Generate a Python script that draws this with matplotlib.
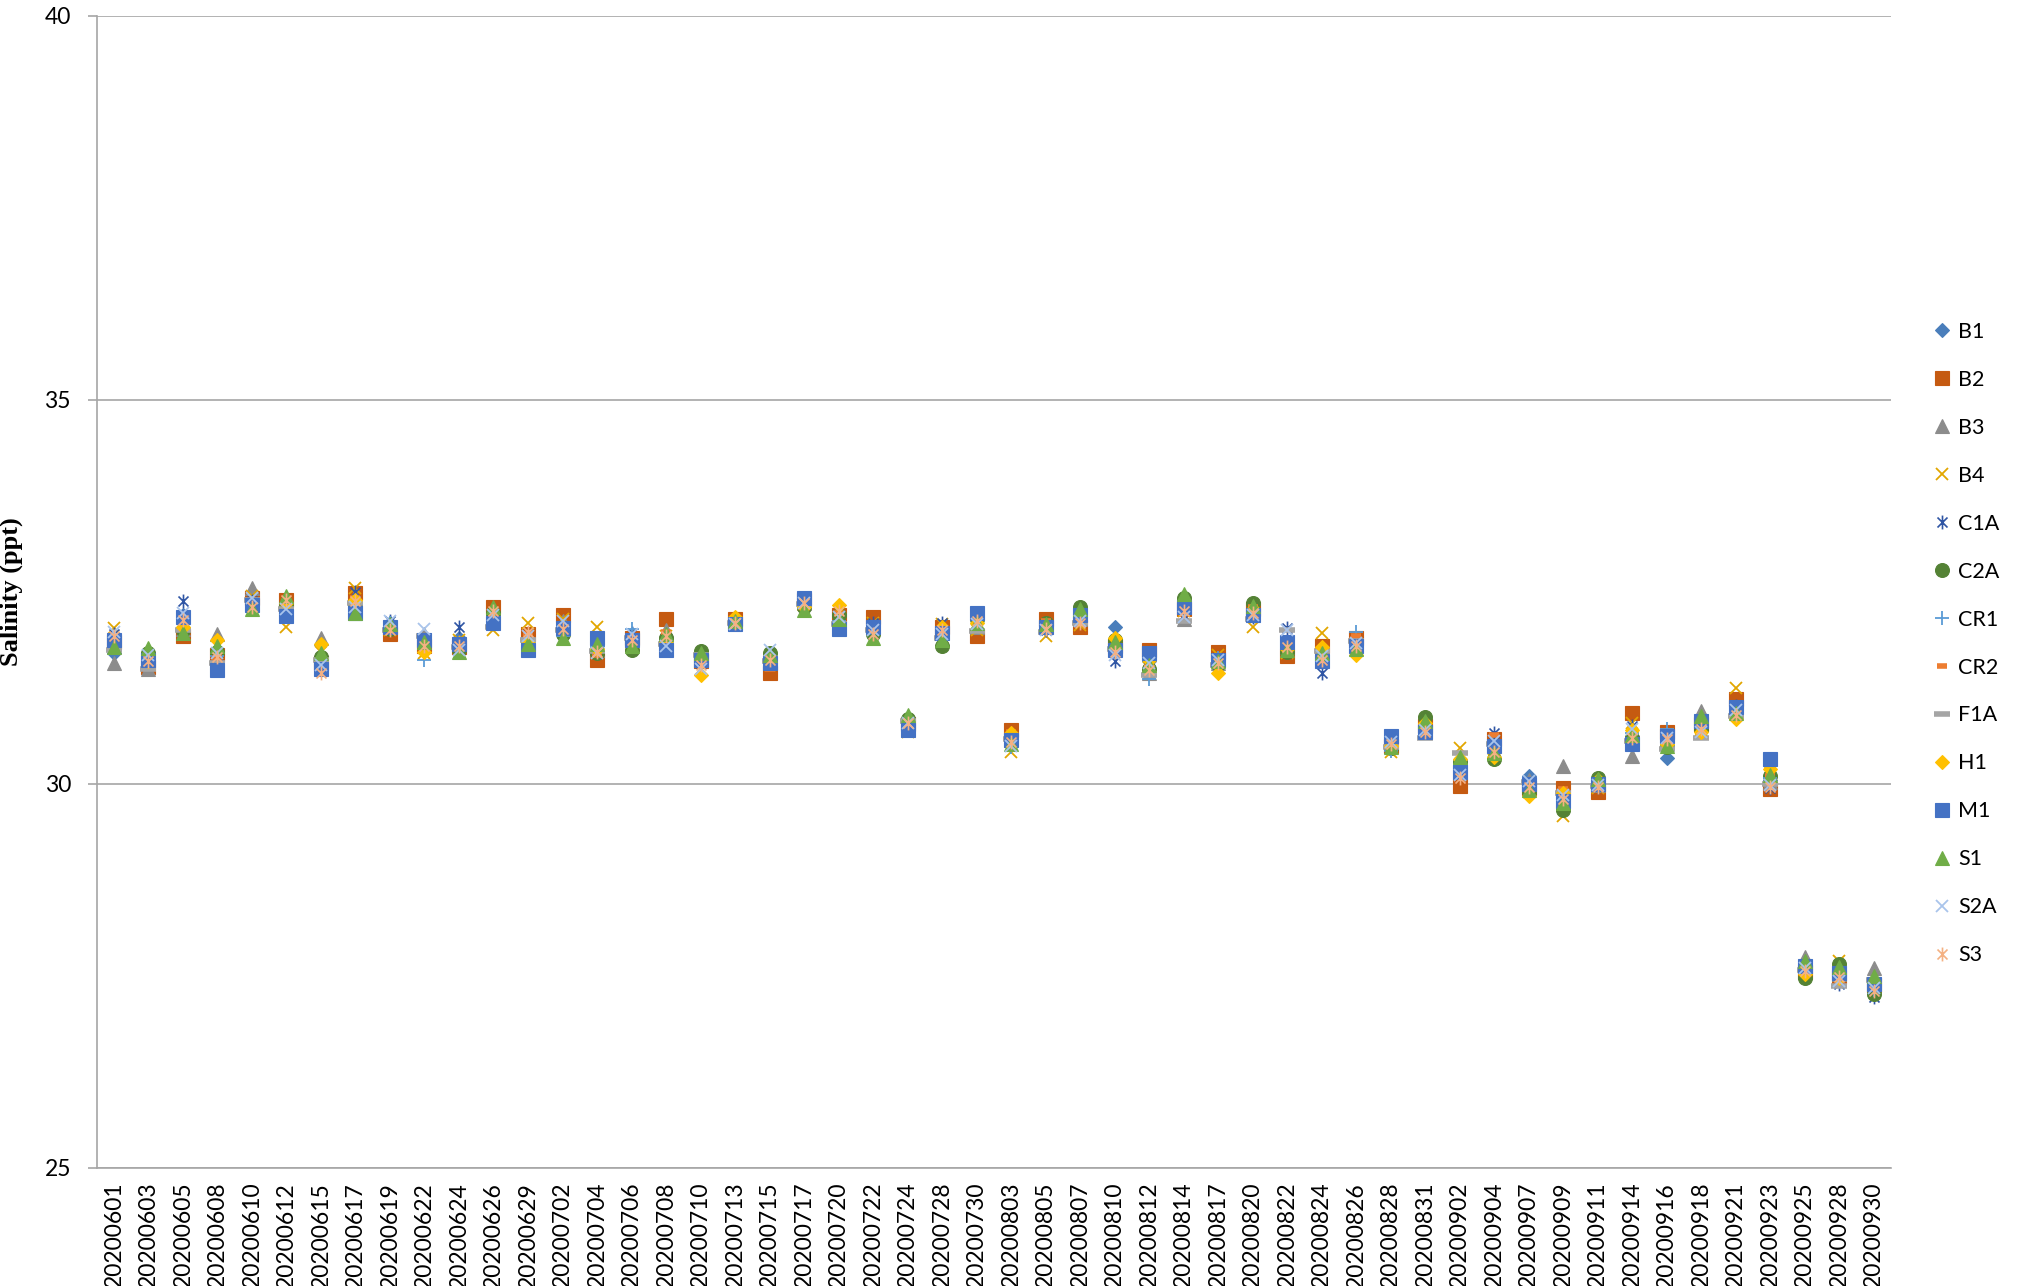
import matplotlib
matplotlib.use("Agg")
import matplotlib.pyplot as plt
from matplotlib.path import Path

dates = ["20200601", "20200603", "20200605", "20200608", "20200610", "20200612", "20200615",
         "20200617", "20200619", "20200622", "20200624", "20200626", "20200629", "20200702",
         "20200704", "20200706", "20200708", "20200710", "20200713", "20200715", "20200717",
         "20200720", "20200722", "20200724", "20200728", "20200730", "20200803", "20200805",
         "20200807", "20200810", "20200812", "20200814", "20200817", "20200820", "20200822",
         "20200824", "20200826", "20200828", "20200831", "20200902", "20200904", "20200907",
         "20200909", "20200911", "20200914", "20200916", "20200918", "20200921", "20200923",
         "20200925", "20200928", "20200930"]

B1 = [31.70, 31.60, 32.20, 31.75, 32.40, 32.30, 31.62, 32.38, 32.10, 31.90, 31.90, 32.20, 31.88,
      32.10, 31.80, 31.95, 31.88, 31.68, 32.12, 31.62, 32.38, 32.15, 32.08, 30.75, 32.00, 32.15,
      30.60, 32.05, 32.25, 32.04, 31.60, 32.35, 31.65, 32.25, 31.80, 31.72, 31.85, 30.52, 30.72,
      30.25, 30.55, 30.10, 29.85, 30.02, 30.62, 30.34, 30.85, 31.05, 30.05, 27.58, 27.50, 27.35]
B2 = [31.85, 31.52, 31.93, 31.68, 32.42, 32.40, 31.58, 32.48, 31.95, 31.80, 31.78, 32.30, 31.95,
      32.20, 31.62, 31.90, 32.15, 31.60, 32.15, 31.45, 32.40, 32.20, 32.17, 30.78, 32.05, 31.92,
      30.70, 32.15, 32.05, 31.80, 31.75, 32.28, 31.72, 32.28, 31.66, 31.80, 31.90, 30.50, 30.75,
      29.97, 30.58, 29.95, 29.95, 29.90, 30.92, 30.68, 30.78, 31.10, 29.93, 27.55, 27.48, 27.38]
B3 = [31.58, 31.50, 32.02, 31.95, 32.55, 32.38, 31.90, 32.45, 32.08, 31.95, 31.85, 32.25, 31.92,
      32.12, 31.75, 31.92, 32.00, 31.65, 32.10, 31.65, 32.35, 32.18, 32.05, 30.85, 31.98, 32.05,
      30.62, 32.08, 32.15, 31.85, 31.45, 32.15, 31.58, 32.22, 31.78, 31.70, 31.88, 30.55, 30.78,
      30.30, 30.60, 30.05, 30.23, 29.98, 30.37, 30.55, 30.95, 30.95, 30.02, 27.75, 27.52, 27.60]
B4 = [32.03, 31.60, 32.08, 31.62, 32.45, 32.05, 31.72, 32.55, 32.00, 31.70, 31.88, 32.00, 32.10,
      32.15, 32.05, 31.85, 31.92, 31.50, 32.08, 31.55, 32.33, 32.25, 32.10, 30.68, 32.08, 32.00,
      30.42, 31.92, 32.07, 31.82, 31.65, 32.25, 31.68, 32.05, 31.70, 31.97, 31.82, 30.42, 30.70,
      30.47, 30.45, 29.90, 29.58, 29.95, 30.80, 30.58, 30.70, 31.25, 30.15, 27.60, 27.70, 27.30]
C1A = [31.95, 31.65, 32.38, 31.68, 32.38, 32.25, 31.60, 32.50, 32.12, 31.85, 32.05, 32.15, 31.85,
       32.05, 31.85, 31.96, 31.80, 31.58, 32.14, 31.60, 32.36, 32.10, 32.10, 30.75, 32.10, 32.20,
       30.55, 32.00, 32.22, 31.60, 31.55, 32.20, 31.60, 32.18, 32.03, 31.45, 31.84, 30.58, 30.74,
       30.20, 30.66, 29.98, 29.80, 29.96, 30.75, 30.56, 30.80, 31.02, 29.95, 27.56, 27.40, 27.22]
C2A = [31.80, 31.70, 32.00, 31.72, 32.30, 32.32, 31.65, 32.33, 32.02, 31.82, 31.75, 32.22, 31.80,
       31.95, 31.70, 31.75, 31.90, 31.73, 32.10, 31.70, 32.30, 32.20, 31.95, 30.85, 31.80, 32.15,
       30.60, 32.10, 32.30, 31.88, 31.50, 32.42, 31.56, 32.35, 31.72, 31.65, 31.78, 30.47, 30.87,
       30.28, 30.32, 29.90, 29.66, 30.08, 30.60, 30.48, 30.72, 30.98, 30.10, 27.47, 27.66, 27.27]
CR1 = [31.90, 31.62, 32.10, 31.66, 32.35, 32.22, 31.55, 32.28, 32.10, 31.62, 31.82, 32.12, 31.90,
       31.92, 31.78, 32.02, 31.85, 31.63, 32.12, 31.62, 32.32, 32.12, 32.02, 30.72, 31.95, 32.18,
       30.48, 32.02, 32.18, 31.70, 31.36, 32.32, 31.64, 32.24, 31.82, 31.68, 31.98, 30.43, 30.66,
       30.18, 30.48, 29.96, 29.82, 30.02, 30.66, 30.72, 30.76, 31.00, 30.08, 27.62, 27.45, 27.32]
CR2 = [31.85, 31.58, 32.05, 31.64, 32.36, 32.20, 31.57, 32.42, 32.05, 31.78, 31.80, 32.18, 31.95,
       32.08, 31.68, 31.88, 31.98, 31.66, 32.06, 31.50, 32.38, 32.22, 32.00, 30.80, 31.92, 32.02,
       30.68, 32.12, 32.20, 31.78, 31.52, 32.22, 31.66, 32.30, 31.75, 31.75, 31.92, 30.45, 30.72,
       30.22, 30.64, 29.94, 29.93, 29.94, 30.68, 30.66, 30.74, 30.86, 30.10, 27.54, 27.46, 27.36]
F1A = [31.75, 31.50, 32.00, 31.58, 32.40, 32.28, 31.62, 32.35, 32.00, 31.92, 31.78, 32.05, 31.88,
       32.00, 31.73, 31.90, 31.82, 31.68, 32.10, 31.60, 32.34, 32.08, 32.00, 30.82, 31.90, 31.99,
       30.58, 31.98, 32.10, 31.76, 31.42, 32.12, 31.55, 32.15, 32.00, 31.73, 31.86, 30.48, 30.60,
       30.40, 30.52, 30.02, 29.88, 29.97, 30.56, 30.45, 30.60, 30.88, 30.00, 27.58, 27.37, 27.45]
H1 = [31.82, 31.60, 32.05, 31.88, 32.32, 32.35, 31.82, 32.40, 32.03, 31.72, 31.84, 32.12, 31.83,
      32.05, 31.76, 31.82, 31.86, 31.42, 32.18, 31.58, 32.30, 32.33, 32.02, 30.76, 32.05, 32.10,
      30.66, 32.06, 32.15, 31.90, 31.62, 32.38, 31.45, 32.28, 31.76, 31.78, 31.68, 30.50, 30.80,
      30.33, 30.35, 29.84, 29.88, 30.05, 30.70, 30.52, 30.67, 30.85, 30.19, 27.52, 27.47, 27.42]
M1 = [31.88, 31.62, 32.17, 31.49, 32.33, 32.19, 31.50, 32.22, 32.05, 31.88, 31.82, 32.10, 31.75,
      32.03, 31.90, 31.88, 31.75, 31.62, 32.08, 31.58, 32.42, 32.02, 32.05, 30.70, 31.97, 32.22,
      30.57, 32.04, 32.20, 31.74, 31.70, 32.30, 31.62, 32.20, 31.85, 31.60, 31.80, 30.62, 30.68,
      30.15, 30.50, 30.00, 29.78, 30.00, 30.52, 30.63, 30.82, 31.00, 30.33, 27.63, 27.54, 27.40]
S1 = [31.78, 31.77, 31.97, 31.80, 32.28, 32.45, 31.70, 32.22, 32.08, 31.85, 31.72, 32.30, 31.82,
      31.90, 31.82, 31.80, 31.95, 31.70, 32.12, 31.68, 32.26, 32.15, 31.90, 30.90, 31.88, 32.10,
      30.52, 32.08, 32.28, 31.85, 31.55, 32.47, 31.60, 32.32, 31.74, 31.70, 31.76, 30.48, 30.82,
      30.35, 30.40, 29.92, 29.75, 30.06, 30.64, 30.50, 30.88, 30.92, 30.12, 27.70, 27.62, 27.50]
S2A = [31.98, 31.68, 32.22, 31.70, 32.42, 32.28, 31.55, 32.30, 32.12, 32.02, 31.74, 32.20, 31.92,
       32.12, 31.70, 31.95, 31.80, 31.50, 32.08, 31.75, 32.36, 32.18, 32.00, 30.80, 31.95, 32.08,
       30.50, 32.00, 32.12, 31.68, 31.58, 32.18, 31.62, 32.20, 32.00, 31.66, 31.83, 30.55, 30.70,
       30.12, 30.56, 30.04, 29.85, 29.98, 30.72, 30.60, 30.68, 30.96, 29.98, 27.60, 27.44, 27.34]
S3 = [31.92, 31.60, 32.13, 31.65, 32.30, 32.40, 31.45, 32.38, 32.00, 31.80, 31.80, 32.25, 31.98,
      32.02, 31.72, 31.88, 31.92, 31.55, 32.10, 31.62, 32.35, 32.25, 31.95, 30.80, 32.00, 32.12,
      30.55, 32.02, 32.10, 31.72, 31.48, 32.25, 31.58, 32.22, 31.78, 31.62, 31.80, 30.52, 30.68,
      30.08, 30.42, 29.96, 29.80, 29.96, 30.60, 30.58, 30.72, 30.90, 29.96, 27.56, 27.48, 27.30]

series_names = ["B1", "B2", "B3", "B4", "C1A", "C2A", "CR1", "CR2", "F1A", "H1", "M1", "S1", "S2A", "S3"]
series_values = [B1, B2, B3, B4, C1A, C2A, CR1, CR2, F1A, H1, M1, S1, S2A, S3]

# Excel-style "star" marker: an X with a vertical stroke through it
ASTER = Path([(0, -1), (0, 1), (-0.72, -0.72), (0.72, 0.72), (-0.72, 0.72), (0.72, -0.72)],
             [Path.MOVETO, Path.LINETO, Path.MOVETO, Path.LINETO, Path.MOVETO, Path.LINETO])

styles = {
    "B1":  dict(marker="D", ms=7.2, color="#4A7EBB", mew=0.8),
    "B2":  dict(marker="s", ms=9.5, color="#C55A11", mew=0.8),
    "B3":  dict(marker="^", ms=10.5, color="#8C8C8C", mew=0.8),
    "B4":  dict(marker="x", ms=9, color="#E2A600", mew=1.3),
    "C1A": dict(marker=ASTER, ms=10, color="#2F55A4", mew=1.2),
    "C2A": dict(marker="o", ms=10, color="#548235", mew=0.8),
    "CR1": dict(marker="+", ms=10, color="#5B9BD5", mew=1.3),
    "CR2": dict(marker="_", ms=7, color="#ED7D31", mew=4),
    "F1A": dict(marker="_", ms=11, color="#A5A5A5", mew=4),
    "H1":  dict(marker="D", ms=7.2, color="#FFC000", mew=0.8),
    "M1":  dict(marker="s", ms=10, color="#4472C4", mew=0.8),
    "S1":  dict(marker="^", ms=10.5, color="#70AD47", mew=0.8),
    "S2A": dict(marker="x", ms=9, color="#A9C4EB", mew=1.3),
    "S3":  dict(marker=ASTER, ms=10, color="#F4B183", mew=1.2),
}

plt.rcParams["font.family"] = ["Lato", "DejaVu Sans"]

fig = plt.figure(figsize=(20.26, 12.86), dpi=100)
ax = fig.add_axes([0.0477, 0.0918, 0.8857, 0.8958])

handles = []
for name, vals in zip(series_names, series_values):
    st = styles[name]
    h, = ax.plot(dates, vals, linestyle="none", marker=st["marker"], markersize=st["ms"],
                 color=st["color"], markerfacecolor=st["color"], markeredgecolor=st["color"],
                 markeredgewidth=st["mew"], label=name)
    handles.append(h)

grid_color = "#A6A6A6"
ax.set_ylim(25, 40)
ax.set_yticks([25, 30, 35, 40])
ax.set_xlim(-0.5, len(dates) - 0.5)
ax.yaxis.grid(True, color=grid_color, linewidth=1.2)
ax.set_axisbelow(True)
for s in ["top", "right"]:
    ax.spines[s].set_visible(False)
ax.spines["left"].set_color(grid_color)
ax.spines["left"].set_linewidth(1.2)
ax.spines["bottom"].set_color(grid_color)
ax.spines["bottom"].set_linewidth(1.2)

ax.tick_params(axis="y", length=6.5, width=1.2, color=grid_color, pad=12, labelsize=16.5,
               labelcolor="#000000")
ax.tick_params(axis="x", length=0, pad=10, labelsize=16.5, labelrotation=90, labelcolor="#000000")

ax.set_ylabel("Salinity (ppt)", family=["Liberation Serif", "DejaVu Serif"], fontweight="bold",
              fontsize=19)
ax.yaxis.set_label_coords(-0.041, 0.5)

leg = ax.legend(handles=handles, loc="center left", bbox_to_anchor=(0.9531, 0.4996),
                bbox_transform=fig.transFigure, frameon=False, fontsize=15.5,
                handlelength=1.0, handletextpad=0.25, labelspacing=1.30, borderpad=0,
                borderaxespad=0, numpoints=1)

fig.savefig("out.png", dpi=100)
